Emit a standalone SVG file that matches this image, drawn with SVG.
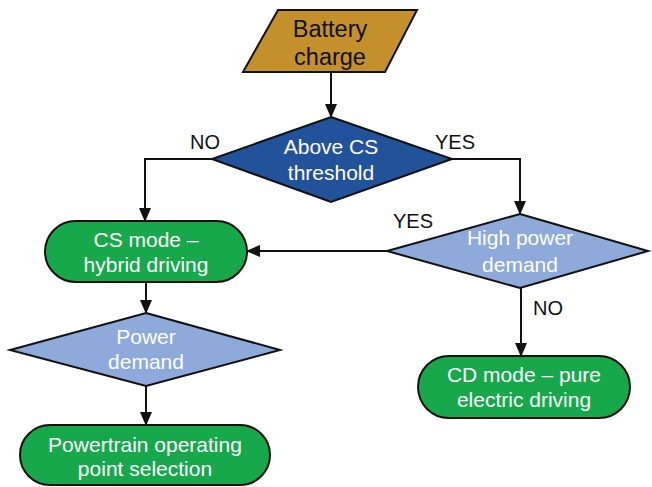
<svg xmlns="http://www.w3.org/2000/svg" width="652" height="487" viewBox="0 0 652 487">
<style>
text{font-family:"Liberation Sans",Arial,sans-serif;font-size:21px;text-anchor:middle}
.w{fill:#ffffff}
.k{fill:#111111}
.big{font-size:23.5px}
.lbl{font-size:20px;fill:#111111}
.shape{stroke:#111111;stroke-width:2}
.conn{fill:none;stroke:#111111;stroke-width:2;marker-end:url(#arr)}
</style>
<defs>
<marker id="arr" viewBox="0 0 14 12" refX="13" refY="6" markerWidth="14" markerHeight="12" markerUnits="userSpaceOnUse" orient="auto">
<path d="M0,0 L14,6 L0,12 z" fill="#111111"/>
</marker>
</defs>
<g id="connectors">
<path class="conn" d="M331,72 V117"/>
<path class="conn" d="M212,159 H145 V221"/>
<path class="conn" d="M452,159 H520 V214"/>
<path class="conn" d="M387,251 H247"/>
<path class="conn" d="M146,282 V313"/>
<path class="conn" d="M521,288 V356"/>
<path class="conn" d="M146,386 V425"/>
</g>
<g id="battery">
<polygon class="shape" points="278,10 417,10 385,72 243,72" fill="#c3902c"/>
<text class="k big" x="330" y="37">Battery</text>
<text class="k big" x="330" y="65">charge</text>
</g>
<g id="above-cs">
<polygon class="shape" points="331,117 452,159 331,202 212,159" fill="#22529a"/>
<text class="w" x="331" y="154">Above CS</text>
<text class="w" x="331" y="180">threshold</text>
</g>
<g id="cs-mode">
<rect class="shape" x="45" y="221" width="202" height="61" rx="30.5" fill="#17a84b"/>
<text class="w" x="146" y="247">CS mode –</text>
<text class="w" x="146" y="272">hybrid driving</text>
</g>
<g id="high-power">
<polygon class="shape" points="520,214 648,251 520,288 387,251" fill="#8eaada"/>
<text class="w" x="520" y="245">High power</text>
<text class="w" x="520" y="272">demand</text>
</g>
<g id="power-demand">
<polygon class="shape" points="146,313 280,350 146,386 10,350" fill="#8eaada"/>
<text class="w" x="146" y="344">Power</text>
<text class="w" x="146" y="369">demand</text>
</g>
<g id="powertrain">
<rect class="shape" x="20" y="425" width="250" height="60" rx="30" fill="#17a84b"/>
<text class="w" x="145" y="452">Powertrain operating</text>
<text class="w" x="145" y="476">point selection</text>
</g>
<g id="cd-mode">
<rect class="shape" x="418" y="356" width="212" height="62" rx="31" fill="#17a84b"/>
<text class="w" x="524" y="382">CD mode – pure</text>
<text class="w" x="524" y="407">electric driving</text>
</g>
<g id="labels">
<text class="lbl" x="205" y="149">NO</text>
<text class="lbl" x="455" y="149">YES</text>
<text class="lbl" x="413" y="228">YES</text>
<text class="lbl" x="548" y="315">NO</text>
</g>
</svg>
